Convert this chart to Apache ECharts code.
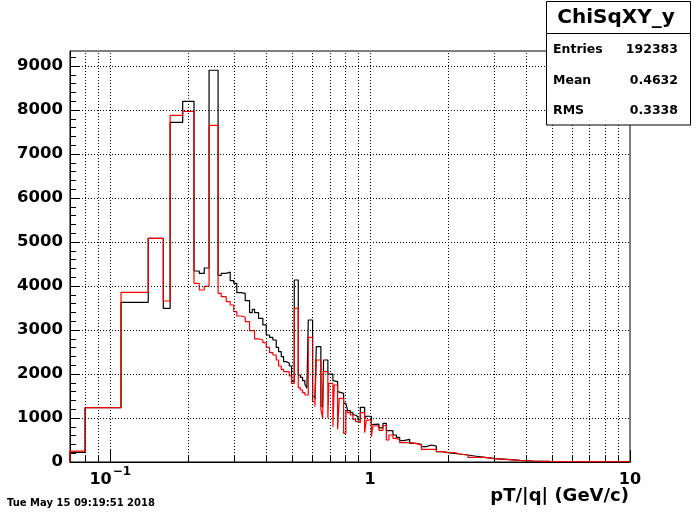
<!DOCTYPE html>
<html><head><meta charset="utf-8">
<script src="https://cdn.jsdelivr.net/npm/echarts@6/dist/echarts.min.js"></script>
<style>html,body{margin:0;padding:0;background:#fff}#c{width:700px;height:514px}</style>
</head><body><div id="c"></div>
<script>
// bin edges in pT/|q| (GeV/c)
const binEdges = [
  0.07, 0.08, 0.11, 0.14, 0.16, 0.17, 0.19, 0.21, 0.22, 0.23, 0.24, 0.26,
  0.2673, 0.2794, 0.2895, 0.2988, 0.3069, 0.3185, 0.3307, 0.3436, 0.3518, 0.3591, 0.3721, 0.3865,
  0.3984, 0.4102, 0.4224, 0.4353, 0.4443, 0.4550, 0.4644, 0.4756, 0.4885, 0.4985, 0.5106,
  0.5291, 0.5386, 0.5497, 0.5610, 0.5710, 0.5781, 0.6006, 0.6129, 0.6206, 0.6464, 0.6562, 0.6620,
  0.6877, 0.6939, 0.7190, 0.7278, 0.7497, 0.7610, 0.7907, 0.8069, 0.8192, 0.8390, 0.8587, 0.8794,
  0.8976, 0.9168, 0.9524, 0.9670, 1.0107,
  1.0251, 1.0812, 1.1202, 1.1547, 1.1814, 1.2241, 1.2616, 1.2992, 1.3460, 1.4196, 1.4971, 1.5749,
  1.6460, 1.7207, 1.7986, 1.8967, 1.9935, 2.1154, 2.2112, 2.3802, 2.5262, 2.7603, 3.0158, 3.3458,
  3.7638, 4.2362, 4.9112, 10
];
// black histogram contents per bin
const blackCounts = [
  220, 1234, 3629, 5083, 3492, 7720, 8197, 4341, 4288, 4409, 8902,
  4242, 4288, 4318, 4121, 4061, 3848, 3830, 3667, 3394, 3470, 3394, 3265,
  3114, 2886, 2833, 2773, 2606, 2508, 2394, 2280, 2250, 2182, 1830,
  4136, 1977, 1924, 1848, 1765, 1674, 3227, 1485, 1424, 2621, 1295, 1242,
  2318, 2000, 2000, 1850, 1826, 1598, 1561, 1333, 1333, 1167, 1121, 1068,
  1030, 955, 1242, 980, 1040,
  850, 860, 775, 879, 712, 712, 614, 561, 485, 515, 424, 400,
  348, 386, 360, 235, 212, 197, 182, 159, 136, 106, 76, 61,
  38, 23, 15, 2
];
// red histogram contents per bin
const redCounts = [
  245, 1234, 3857, 5083, 3659, 7879, 7970, 4061, 3909, 3992, 7652,
  3833, 3758, 3644, 3568, 3417, 3318, 3290, 3189, 2985, 2985, 2800, 2773,
  2712, 2606, 2485, 2432, 2318, 2182, 2106, 2053, 2053, 1955, 1788,
  3492, 1689, 1636, 1576, 1523, 1523, 2833, 1371, 1258, 2318, 1197, 1000,
  2053, 992, 1788, 800, 1750, 742, 1447, 652, 1182, 1121, 1068, 970,
  917, 894, 1121, 667, 950,
  576, 818, 720, 830, 500, 614, 538, 500, 439, 439, 424, 390,
  288, 288, 288, 235, 212, 212, 182, 159, 106, 106, 76, 61,
  38, 23, 12, 5
];
const xMajorTicks = [0.1, 1, 10];
const xMinorTicks = [0.08, 0.09, 0.2, 0.3, 0.4, 0.5, 0.6, 0.7, 0.8, 0.9, 2, 3, 4, 5, 6, 7, 8, 9];
const xGridValues = [0.08, 0.09, 0.1, 0.2, 0.3, 0.4, 0.5, 0.6, 0.7, 0.8, 0.9, 1, 2, 3, 4, 5, 6, 7, 8, 9];
const yMajorTicks = [0, 1000, 2000, 3000, 4000, 5000, 6000, 7000, 8000, 9000];
const yMinorTicks = [200,400,600,800,1200,1400,1600,1800,2200,2400,2600,2800,3200,3400,3600,3800,
  4200,4400,4600,4800,5200,5400,5600,5800,6200,6400,6600,6800,7200,7400,7600,7800,8200,8400,8600,8800,9200];
const yGridValues = [1000, 2000, 3000, 4000, 5000, 6000, 7000, 8000, 9000];
const statsTitle = 'ChiSqXY_y';
const statsLabels = ['Entries', 'Mean', 'RMS'];
const statsValues = ['192383', '0.4632', '0.3338'];
const xTitle = 'pT/|q| (GeV/c)';
const dateText = 'Tue May 15 09:19:51 2018';

function stepPoints(edges, vals) {
  const pts = [[edges[0], 0]];
  for (let i = 0; i < vals.length; i++) {
    pts.push([edges[i], vals[i]]);
    pts.push([edges[i + 1], vals[i]]);
  }
  pts.push([edges[vals.length], 0]);
  return pts;
}

const FONT = 'DejaVu Sans';
const chart = echarts.init(document.getElementById('c'), null, {renderer: 'canvas'});
const gridLineData = xGridValues.map(v => ({xAxis: v})).concat(yGridValues.map(v => ({yAxis: v})));

const option = {
  animation: false,
  backgroundColor: '#fff',
  grid: {left: 70, right: 70, top: 51, bottom: 52, show: true, borderColor: '#000', borderWidth: 1, backgroundColor: 'transparent'},
  xAxis: [{
    type: 'log', logBase: 10, min: 0.07, max: 10, position: 'bottom',
    axisLine: {show: true, lineStyle: {color: '#000', width: 1}},
    axisTick: {show: true, inside: true, length: 12, lineStyle: {color: '#000'}, customValues: xMajorTicks},
    axisLabel: {
      show: true, margin: 4, customValues: xMajorTicks,
      formatter: v => v < 0.5 ? '{b|10}{s|\u22121}' : (v < 5 ? '{b|1}' : '{b|10}'),
      rich: {
        b: {fontFamily: FONT, fontWeight: 'bold', fontSize: 16, color: '#000', lineHeight: 28},
        s: {fontFamily: FONT, fontWeight: 'bold', fontSize: 12, color: '#000', lineHeight: 12, verticalAlign: 'top', padding: [0, 0, 0, 1]}
      }
    },
    splitLine: {show: false}
  }, {
    type: 'log', logBase: 10, min: 0.07, max: 10, position: 'bottom',
    axisLine: {show: false},
    axisTick: {show: true, inside: true, length: 6, lineStyle: {color: '#000'}, customValues: xMinorTicks},
    axisLabel: {show: false},
    splitLine: {show: false}
  }],
  yAxis: [{
    type: 'value', min: 0, max: 9340, interval: 1000, position: 'left',
    axisLine: {show: true, lineStyle: {color: '#000', width: 1}},
    axisTick: {show: true, inside: true, length: 10, lineStyle: {color: '#000'}, customValues: yMajorTicks},
    axisLabel: {show: true, margin: 7, customValues: yMajorTicks, formatter: v => String(v),
      fontFamily: FONT, fontWeight: 'bold', fontSize: 16.5, color: '#000'},
    splitLine: {show: false}
  }, {
    type: 'value', min: 0, max: 9340, interval: 1000, position: 'left',
    axisLine: {show: false},
    axisTick: {show: true, inside: true, length: 6, lineStyle: {color: '#000'}, customValues: yMinorTicks},
    axisLabel: {show: false},
    splitLine: {show: false}
  }],
  series: [{
    type: 'line', xAxisIndex: 0, yAxisIndex: 0, data: [], z: 1, silent: true,
    markLine: {silent: true, symbol: 'none', animation: false, label: {show: false},
      lineStyle: {color: '#000', width: 1, type: [1, 2]}, data: gridLineData}
  }, {
    name: 'black', type: 'line', xAxisIndex: 0, yAxisIndex: 0, z: 3,
    data: stepPoints(binEdges, blackCounts), showSymbol: false, symbol: 'none',
    lineStyle: {color: '#000', width: 1.2}, itemStyle: {color: '#000'}
  }, {
    name: 'red', type: 'line', xAxisIndex: 0, yAxisIndex: 0, z: 4,
    data: stepPoints(binEdges, redCounts), showSymbol: false, symbol: 'none',
    lineStyle: {color: '#ff0000', width: 1.2}, itemStyle: {color: '#ff0000'}
  }],
  graphic: [
    {type: 'rect', shape: {x: 546.5, y: 1.5, width: 144, height: 123.5}, style: {fill: '#fff', stroke: '#000', lineWidth: 1}, z: 100},
    {type: 'line', shape: {x1: 546.5, y1: 33.5, x2: 690.5, y2: 33.5}, style: {stroke: '#000', lineWidth: 1}, z: 101},
    {type: 'text', x: 616, y: 18, z: 102, style: {text: statsTitle, font: 'bold 20px "DejaVu Sans"', fill: '#000', textAlign: 'center', textVerticalAlign: 'middle'}},
    ...statsLabels.map((t, i) => ({type: 'text', x: 553, y: 50 + i * 30.5, z: 102,
      style: {text: t, font: 'bold 12.5px "DejaVu Sans"', fill: '#000', textAlign: 'left', textVerticalAlign: 'middle'}})),
    ...statsValues.map((t, i) => ({type: 'text', x: 678, y: 50 + i * 30.5, z: 102,
      style: {text: t, font: 'bold 12.5px "DejaVu Sans"', fill: '#000', textAlign: 'right', textVerticalAlign: 'middle'}})),
    {type: 'text', x: 629, y: 496, z: 102, style: {text: xTitle, font: 'bold 18px "DejaVu Sans"', fill: '#000', textAlign: 'right', textVerticalAlign: 'middle'}},
    {type: 'text', x: 7, y: 503, z: 102, style: {text: dateText, font: 'bold 10px "DejaVu Sans"', fill: '#000', textAlign: 'left', textVerticalAlign: 'middle'}}
  ]
};
chart.setOption(option);
</script>
</body></html>
